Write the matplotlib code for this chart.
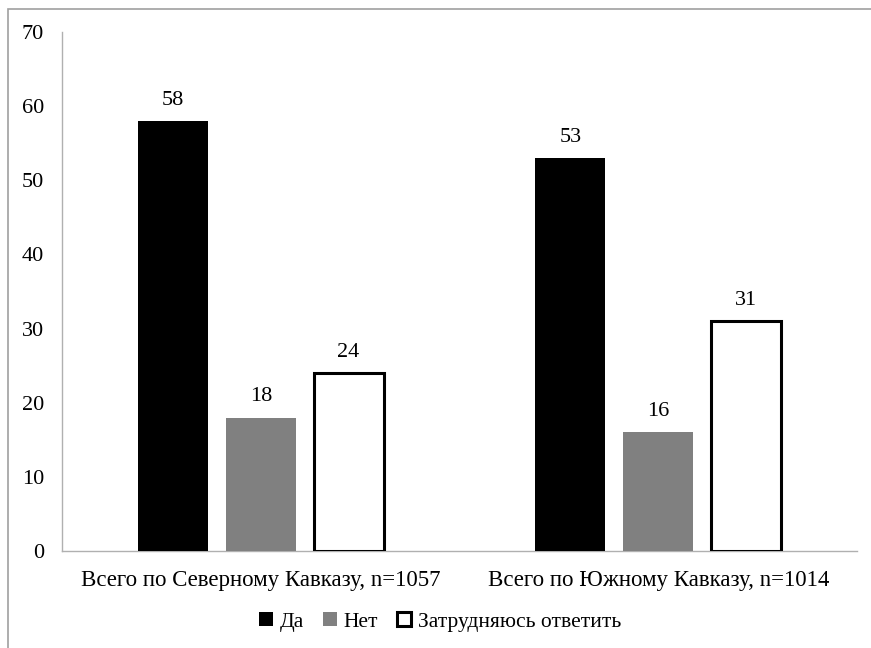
"""Grouped bar chart: answers by region."""

import matplotlib

matplotlib.use("Agg", force=True)

import matplotlib.pyplot as plt
import numpy as np
from matplotlib.patches import Patch, Rectangle

plt.rcParams["font.family"] = ["Liberation Serif", "DejaVu Serif"]

categories = ["Всего по Северному Кавказу, n=1057", "Всего по Южному Кавказу, n=1014"]
series_names = ["Да", "Нет", "Затрудняюсь ответить"]
values_yes = [58, 53]
values_no = [18, 16]
values_unsure = [24, 31]
y_ticks = [0, 10, 20, 30, 40, 50, 60, 70]

fig = plt.figure(figsize=(8.71, 6.48), dpi=100)
ax = fig.add_axes([62 / 871, 97 / 648, 795 / 871, 519 / 648])

x = np.arange(len(categories))
width = 0.176
step = 0.221
styles = [
    dict(color="#000000", edgecolor="#000000", linewidth=0),
    dict(color="#808080", edgecolor="#808080", linewidth=0),
    dict(color="#ffffff", edgecolor="#000000", linewidth=2.2),
]
all_values = [values_yes, values_no, values_unsure]

for i, (vals, style) in enumerate(zip(all_values, styles)):
    bars = ax.bar(x + (i - 1) * step, vals, width, **style, zorder=3)
    for rect, v in zip(bars, vals):
        ax.annotate(
            f"{v}",
            (rect.get_x() + rect.get_width() / 2, rect.get_height()),
            xytext=(0, 8),
            textcoords="offset points",
            ha="center",
            va="bottom",
            fontsize=16,
        )

ax.set_xlim(-0.5, 1.5)
ax.set_ylim(0, 70)
ax.set_yticks(y_ticks)
ax.set_xticks(x)
ax.set_xticklabels(categories, fontsize=16.5)
ax.tick_params(axis="y", labelsize=16, length=0, pad=13)
ax.tick_params(axis="x", length=0, pad=14)
for side in ["top", "right"]:
    ax.spines[side].set_visible(False)
for side in ["left", "bottom"]:
    ax.spines[side].set_color("#b0b0b0")
    ax.spines[side].set_linewidth(1.0)

handles = [Patch(facecolor=s["color"], edgecolor=s["edgecolor"], linewidth=s["linewidth"]) for s in styles]
fig.legend(
    handles,
    series_names,
    loc="center",
    bbox_to_anchor=(440 / 871, 1 - 622 / 648),
    ncol=3,
    frameon=False,
    fontsize=15.5,
    handlelength=0.65,
    handleheight=0.65,
    handletextpad=0.3,
    columnspacing=0.9,
)

# outer frame (cut at right and bottom as in the source)
fig.patches.append(
    Rectangle(
        (8 / 871, -0.05),
        1.1,
        1 - 9 / 648 + 0.05,
        transform=fig.transFigure,
        fill=False,
        edgecolor="#a0a0a0",
        linewidth=1.2,
    )
)

fig.savefig("out.png", dpi=100)
plt.close(fig)
